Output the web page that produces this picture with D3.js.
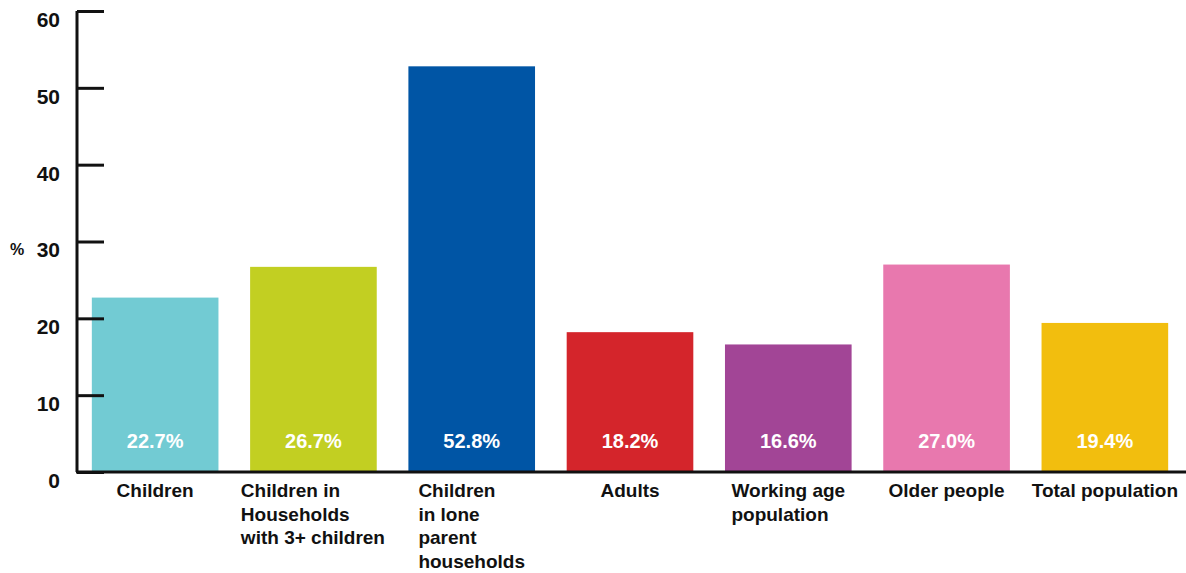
<!DOCTYPE html>
<html>
<head>
<meta charset="utf-8">
<script src="https://cdn.jsdelivr.net/npm/d3@7"></script>
<style>
html,body{margin:0;padding:0;background:#fff;}
svg{display:block;font-family:"Liberation Sans",Arial,Helvetica,sans-serif;font-weight:bold;}
</style>
</head>
<body>
<svg id="chart" width="1186" height="573"></svg>
<script>
const categories = [
  ["Children"],
  ["Children in", "Households", "with 3+ children"],
  ["Children", "in lone", "parent", "households"],
  ["Adults"],
  ["Working age", "population"],
  ["Older people"],
  ["Total population"]
];
const values = [22.7, 26.7, 52.8, 18.2, 16.6, 27.0, 19.4];
const valueLabels = ["22.7%", "26.7%", "52.8%", "18.2%", "16.6%", "27.0%", "19.4%"];
const colors = ["#72CBD3", "#C2CF22", "#0055A5", "#D4252B", "#A24596", "#E878AE", "#F2BE0E"];
const yTicks = [0, 10, 20, 30, 40, 50, 60];

const svg = d3.select("#chart");
const idx = d3.range(values.length);

const x = d3.scaleBand().domain(idx).range([76, 1184]).paddingInner(0.2).paddingOuter(0.1);
const y = d3.scaleLinear().domain([0, 60]).range([472, 11]);

// bars
svg.append("g").selectAll("rect").data(idx).join("rect")
  .attr("x", i => x(i))
  .attr("y", i => y(values[i]))
  .attr("width", x.bandwidth())
  .attr("height", i => y(0) - y(values[i]))
  .attr("fill", i => colors[i]);

// value labels
svg.append("g").selectAll("text").data(idx).join("text")
  .attr("x", i => x(i) + x.bandwidth() / 2)
  .attr("y", 448)
  .attr("text-anchor", "middle")
  .attr("fill", "#fff")
  .attr("font-size", 20)
  .text(i => valueLabels[i]);

// y axis
const yAxis = d3.axisLeft(y).tickValues(yTicks).tickSize(-27).tickPadding(0).tickFormat(d3.format("d"));
const gy = svg.append("g").attr("transform", "translate(77,0)").call(yAxis);
gy.select(".domain").attr("stroke", "#111").attr("stroke-width", 3).attr("d", `M0,${y(60)}V${y(0)}`);
gy.selectAll(".tick line").attr("stroke", "#111").attr("stroke-width", 3).attr("x1", 0);
gy.selectAll(".tick text")
  .attr("x", -17).attr("dy", "0.35em").attr("transform", "translate(0,8)")
  .attr("text-anchor", "end")
  .attr("font-size", 21).attr("font-weight", "bold").attr("fill", "#111")
  .attr("font-family", "'Liberation Sans',Arial,sans-serif");

svg.append("text").attr("x", 10).attr("y", y(30) + 8).attr("dy", "0.35em")
  .attr("font-size", 16).attr("fill", "#111").text("%");

// x axis baseline
svg.append("line").attr("x1", 76).attr("x2", 1186).attr("y1", y(0)).attr("y2", y(0))
  .attr("stroke", "#111").attr("stroke-width", 3);

// category labels
const gl = svg.append("g");
idx.forEach(i => {
  const t = gl.append("text").attr("font-size", 19).attr("fill", "#111").attr("text-anchor", "start");
  categories[i].forEach((line, k) => {
    t.append("tspan").attr("x", 0).attr("y", 497 + k * 23.5).text(line);
  });
  const w = t.node().getBBox().width;
  t.attr("transform", `translate(${x(i) + x.bandwidth() / 2 - w / 2},0)`);
});
</script>
</body>
</html>
